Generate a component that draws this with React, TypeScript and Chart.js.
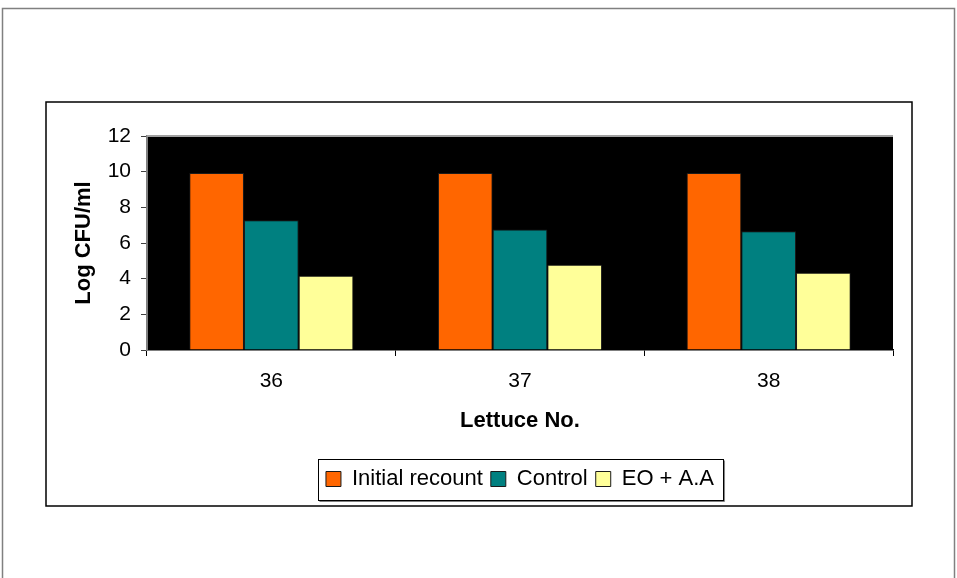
import React, { useEffect, useRef } from "react";
import { Chart, registerables } from "chart.js";

Chart.register(...registerables);

const categories = ["36", "37", "38"];
const initialRecount = [9.92, 9.92, 9.92];
const control = [7.28, 6.76, 6.66];
const eoAA = [4.16, 4.78, 4.33];
const seriesNames = ["Initial recount", "Control", "EO + A.A"];
const seriesColors = ["#FF6600", "#008080", "#FFFF99"];
const yTitle = "Log CFU/ml";
const xTitle = "Lettuce No.";

const FONT = "'Liberation Sans', Arial, sans-serif";

const framePlugin = {
  id: "frame",
  beforeDraw(chart: any) {
    const { ctx, chartArea } = chart;
    ctx.save();
    ctx.fillStyle = "#ffffff";
    ctx.fillRect(0, 0, chart.width, chart.height);
    // outer border
    ctx.strokeStyle = "#808080";
    ctx.lineWidth = 1.5;
    ctx.strokeRect(2.5, 8.5, 952, 600);
    // inner box
    ctx.strokeStyle = "#000000";
    ctx.lineWidth = 1.5;
    ctx.strokeRect(46, 102, 866, 404);
    // plot background
    ctx.fillStyle = "#000000";
    ctx.fillRect(chartArea.left, chartArea.top, chartArea.right - chartArea.left, chartArea.bottom - chartArea.top);
    ctx.restore();
  },
  afterDraw(chart: any) {
    const { ctx, chartArea } = chart;
    ctx.save();
    // top gray line of plot
    ctx.strokeStyle = "#a0a0a0";
    ctx.lineWidth = 2;
    ctx.beginPath();
    ctx.moveTo(chartArea.left, chartArea.top);
    ctx.lineTo(chartArea.right, chartArea.top);
    ctx.stroke();
    // legend frame
    const hb = chart.legend && chart.legend.legendHitBoxes;
    if (hb && hb.length) {
      const first = hb[0];
      const last = hb[hb.length - 1];
      const l = first.left - 8;
      const r = last.left + last.width + 9;
      const t = first.top - 9;
      const b = first.top + first.height + 10;
      ctx.strokeStyle = "#808080";
      ctx.lineWidth = 1;
      ctx.beginPath();
      ctx.moveTo(l + 1.5, b + 1.5);
      ctx.lineTo(r + 1.5, b + 1.5);
      ctx.lineTo(r + 1.5, t + 1.5);
      ctx.stroke();
      ctx.strokeStyle = "#000000";
      ctx.strokeRect(Math.round(l) + 0.5, Math.round(t) + 0.5, Math.round(r - l), Math.round(b - t));
    }
    ctx.restore();
  },
};

export default function App() {
  const ref = useRef<HTMLCanvasElement | null>(null);

  useEffect(() => {
    if (!ref.current) return;
    const values = [initialRecount, control, eoAA];
    const chart = new Chart(ref.current, {
      type: "bar",
      data: {
        labels: categories,
        datasets: seriesNames.map((name, i) => ({
          label: name,
          data: values[i],
          backgroundColor: seriesColors[i],
          borderColor: "#1a1a1a",
          borderWidth: 1,
          categoryPercentage: 0.66,
          barPercentage: 1.0,
        })),
      },
      options: {
        animation: false,
        responsive: false,
        devicePixelRatio: 1,
        layout: { padding: { left: 46, right: 64, top: 136, bottom: 78 } },
        plugins: {
          tooltip: { enabled: false },
          title: { display: false },
          legend: {
            position: "bottom",
            fullSize: false,
            labels: {
              color: "#000",
              font: { family: FONT, size: 22 },
              boxWidth: 15,
              boxHeight: 15,
              padding: 8,
            },
          },
        },
        scales: {
          x: {
            grid: {
              display: true,
              drawOnChartArea: false,
              drawTicks: true,
              tickLength: 6,
              color: "#000",
              offset: true,
            },
            border: { display: true, color: "#000", width: 1.5 },
            ticks: {
              color: "#000",
              font: { family: FONT, size: 21 },
              padding: 13,
            },
            title: {
              display: true,
              text: xTitle,
              color: "#000",
              font: { family: FONT, size: 22, weight: "bold" },
              padding: { top: 0, bottom: 26 },
            },
            afterFit(scale: any) {
              scale.height = 110;
            },
          },
          y: {
            min: 0,
            max: 12,
            ticks: {
              stepSize: 2,
              color: "#000",
              font: { family: FONT, size: 21 },
              padding: 10,
            },
            grid: {
              display: true,
              drawOnChartArea: false,
              drawTicks: true,
              tickLength: 6,
              color: "#404040",
            },
            border: { display: true, color: "#808080", width: 2 },
            title: {
              display: true,
              text: yTitle,
              color: "#000",
              font: { family: FONT, size: 22, weight: "bold" },
              padding: { top: 25, bottom: 0 },
            },
            afterFit(scale: any) {
              scale.width = 101;
            },
          },
        },
      },
      plugins: [framePlugin],
    } as any);
    return () => chart.destroy();
  }, []);

  return (
    <div style={{ position: "absolute", left: 0, top: 0, width: 957, height: 578 }}>
      <canvas ref={ref} width={957} height={578} style={{ width: 957, height: 578, display: "block" }} />
    </div>
  );
}
